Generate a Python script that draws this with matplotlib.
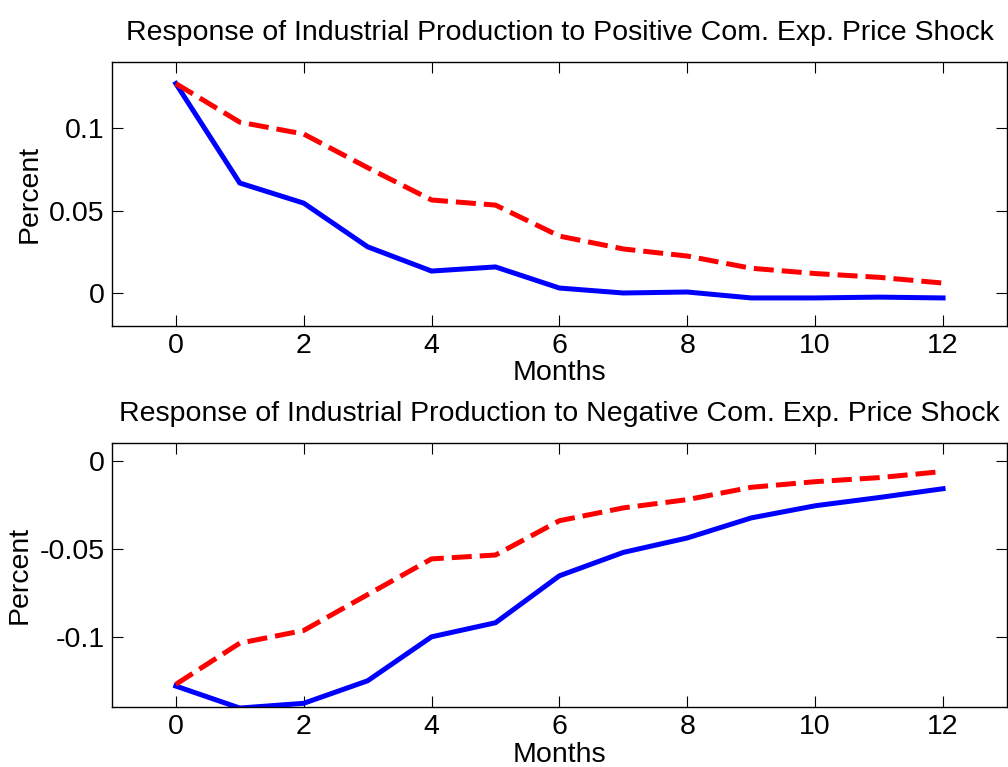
import numpy as np
import matplotlib
matplotlib.use("Agg")
import matplotlib.pyplot as plt

months = np.arange(0, 13)

# positive shock
pos_blue = [0.127, 0.0667, 0.0545, 0.028, 0.0133, 0.0158, 0.003, 0.0, 0.0006,
            -0.003, -0.003, -0.0025, -0.003]
pos_red = [0.127, 0.1036, 0.0964, 0.076, 0.0564, 0.0533, 0.0345, 0.0267, 0.0224,
           0.015, 0.0118, 0.0095, 0.006]
# negative shock
neg_blue = [-0.128, -0.1405, -0.1378, -0.125, -0.1, -0.092, -0.0653, -0.052, -0.0438,
            -0.0324, -0.0255, -0.0208, -0.0158]
neg_red = [-0.127, -0.1036, -0.0964, -0.076, -0.0557, -0.0535, -0.034, -0.0267, -0.022,
           -0.015, -0.0118, -0.0095, -0.006]

titles = ["Response of Industrial Production to Positive Com. Exp. Price Shock",
          "Response of Industrial Production to Negative Com. Exp. Price Shock"]
yticks_top = [0, 0.05, 0.1]
yticklabels_top = ["0", "0.05", "0.1"]
yticks_bot = [-0.1, -0.05, 0]
yticklabels_bot = ["-0.1", "-0.05", "0"]
xticks = [0, 2, 4, 6, 8, 10, 12]

plt.rcParams['font.family'] = ['Liberation Sans', 'DejaVu Sans']
fs = 20.5

fig = plt.figure(figsize=(10.08, 7.67), dpi=100)
ax1 = fig.add_axes([0.111, 0.575, 0.888, 0.344])
ax2 = fig.add_axes([0.111, 0.078, 0.888, 0.344])

panels = [(ax1, pos_blue, pos_red, (-0.02, 0.14), yticks_top, yticklabels_top, titles[0]),
          (ax2, neg_blue, neg_red, (-0.14, 0.01), yticks_bot, yticklabels_bot, titles[1])]

for ax, b, r, yl, yt, ytl, tt in panels:
    ax.plot(months, b, color="#0000ff", linewidth=3.6, solid_joinstyle='miter')
    ax.plot(months, r, color="#ff0000", linewidth=3.6, linestyle=(0, (4, 1.6)))
    ax.set_xlim(-1, 13)
    ax.set_ylim(*yl)
    ax.set_xticks(xticks)
    ax.set_yticks(yt)
    ax.set_yticklabels(ytl)
    ax.tick_params(direction='in', length=8, width=0.8, top=True, right=True,
                   labelsize=fs, pad=5)
    for s in ax.spines.values():
        s.set_linewidth(1.0)
    ax.set_xlabel("Months", fontsize=fs, labelpad=1)
    ax.set_ylabel("Percent", fontsize=fs, labelpad=5)
    ax.set_title(tt, fontsize=fs, pad=16)

fig.savefig("out.png", dpi=100)
